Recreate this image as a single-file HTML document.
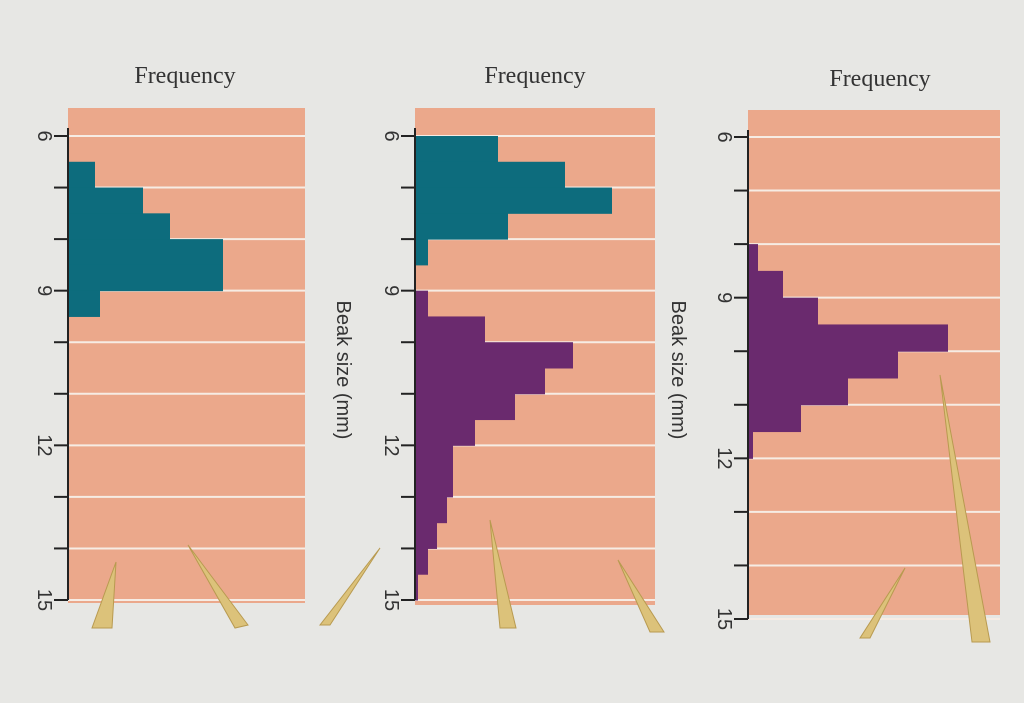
<!DOCTYPE html>
<html><head><meta charset="utf-8"><style>
html,body{margin:0;padding:0;background:#e6e6e3;}
svg{display:block;font-family:"Liberation Serif",serif;}
</style></head><body>
<svg id="chart" width="1024" height="703" viewBox="0 0 1024 703">
<rect x="0" y="0" width="1024" height="703" fill="#e7e7e4"/>
<g id="panels"></g>
</svg>
<script>
// Data: frequency per 0.5 mm bin (arbitrary units)
const binWidthMm = 0.5;
const axisTicks = [6,7,8,9,10,11,12,13,14,15];
const tickLabels = [6,9,12,15];
const p1TealStart = 6.5;
const p1Teal = [2.7,7.5,10.2,15.5,15.5,3.2];
const p2TealStart = 6.0;
const p2Teal = [8.3,15.0,19.7,9.3,1.3];
const p2PurpleStart = 9.0;
const p2Purple = [1.3,7.0,15.8,13.0,10.0,6.0,3.8,3.8,3.2,2.2,1.3,0.3];
const p3PurpleStart = 8.0;
const p3Purple = [1.0,3.5,7.0,20.0,15.0,10.0,5.3,0.5];

const NS='http://www.w3.org/2000/svg';
const root=document.getElementById('panels');
function mk(tag,attrs,parent){const e=document.createElementNS(NS,tag);for(const k in attrs)e.setAttribute(k,attrs[k]);(parent||root).appendChild(e);return e;}

const panels=[
 {x0:68,x1:305,top:108,bottom:603,y6:136,y15:600,series:[{start:p1TealStart,vals:p1Teal,color:'#0d6c7d',name:'teal'}],beakLabel:false,freqX:185,freqY:83},
 {x0:415,x1:655,top:108,bottom:605,y6:136,y15:600,series:[{start:p2TealStart,vals:p2Teal,color:'#0d6c7d',name:'teal'},{start:p2PurpleStart,vals:p2Purple,color:'#6a2a6e',name:'purple'}],beakLabel:true,beakX:337,freqX:535,freqY:83},
 {x0:748,x1:1000,top:110,bottom:615,y6:137,y15:619,series:[{start:p3PurpleStart,vals:p3Purple,color:'#6a2a6e',name:'purple'}],beakLabel:true,beakX:672,freqX:880,freqY:86}
];
const pxPerFreq=10;

panels.forEach((p,pi)=>{
 const g=mk('g',{});
 
 
 const y=mm=>p.y6+(mm-6)*(p.y15-p.y6)/9;
 const x=f=>p.x0+f*pxPerFreq;
 const bg=mk('rect',{x:p.x0,y:p.top,width:p.x1-p.x0,height:p.bottom-p.top,fill:'#eba88b'},g);
 
 
 axisTicks.forEach(t=>{
  const gl=mk('line',{x1:p.x0,x2:p.x1,y1:y(t),y2:y(t),stroke:'#f6ece4','stroke-width':2},g);
  
  
 });
 p.series.forEach(s=>{
  s.vals.forEach((v,i)=>{
   const ya=y(s.start+i*binWidthMm), yb=y(s.start+(i+1)*binWidthMm);
   const r=mk('rect',{x:p.x0,y:ya,width:x(v)-p.x0,height:yb-ya+0.5,fill:s.color},g);
   
   
  });
 });
 const ax=mk('line',{x1:p.x0,x2:p.x0,y1:p.top+20,y2:y(15),stroke:'#222','stroke-width':2},g);
 
 
 axisTicks.forEach(t=>{
  const tk=mk('line',{x1:p.x0-14,x2:p.x0,y1:y(t),y2:y(t),stroke:'#222','stroke-width':2},g);
  
  
 });
 tickLabels.forEach(t=>{
  const tx=mk('text',{x:0,y:0,transform:'translate('+(p.x0-30)+','+y(t)+') rotate(90)','text-anchor':'middle','font-size':20,fill:'#333','font-family':'Liberation Sans, sans-serif'},g);
  tx.textContent=t;
  
  
 });
 const ft=mk('text',{x:p.freqX,y:p.freqY,'text-anchor':'middle','font-size':24,fill:'#333'},g);
 ft.textContent='Frequency';
 
 
 if(p.beakLabel){
  const bt=mk('text',{x:0,y:0,transform:'translate('+p.beakX+',370) rotate(90)','text-anchor':'middle','font-size':20,fill:'#333','font-family':'Liberation Sans, sans-serif'},g);
  bt.textContent='Beak size (mm)';
  
  
 }
});
// decorative beaks
const beaks=[[92,628,112,628,116,562],[188,545,235,628,248,625],[320,625,330,625,380,548],[490,520,500,628,516,628],[618,560,650,632,664,632],[860,638,870,638,905,568],[940,375,972,642,990,642]];
beaks.forEach(b=>{
 const pg=mk('polygon',{points:b[0]+','+b[1]+' '+b[2]+','+b[3]+' '+b[4]+','+b[5],fill:'#dcc27a',stroke:'#b89a50','stroke-width':1});
 
 
});
</script>
</body></html>
